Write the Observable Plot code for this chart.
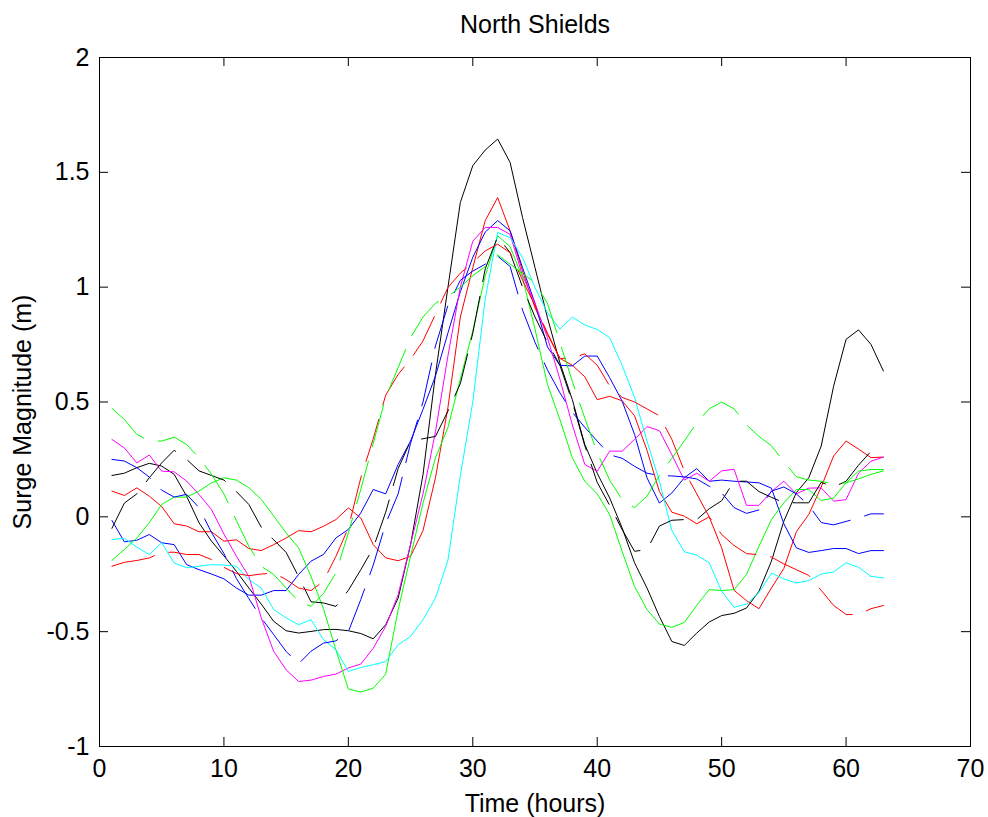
<!DOCTYPE html>
<html><head><meta charset="utf-8">
<script src="https://cdn.jsdelivr.net/npm/d3@7"></script>
<script src="https://cdn.jsdelivr.net/npm/@observablehq/plot@0.6"></script>
<style>body{margin:0;background:#fff}</style>
</head><body><div id="chart"></div>
<script>
const title = "North Shields";
const xLabel = "Time (hours)";
const yLabel = "Surge Magnitude (m)";
const xTicks = [0,10,20,30,40,50,60,70];
const yTicks = [-1,-0.5,0,0.5,1,1.5,2];
const hours = [1,2,3,4,5,6,7,8,9,10,11,12,13,14,15,16,17,18,19,20,21,22,23,24,25,26,27,28,29,30,31,32,33,34,35,36,37,38,39,40,41,42,43,44,45,46,47,48,49,50,51,52,53,54,55,56,57,58,59,60,61,62,63];

const blackSolid = [0.18,0.19,0.214,0.233,0.221,0.185,0.09,-0.026,-0.106,-0.17,-0.237,-0.31,-0.38,-0.455,-0.496,-0.506,-0.499,-0.491,-0.49,-0.496,-0.508,-0.531,-0.47,-0.354,-0.121,0.184,0.62,0.998,1.369,1.529,1.597,1.645,1.543,1.303,1.085,0.867,0.671,0.51,0.315,0.19,0.082,-0.048,-0.2,-0.31,-0.434,-0.543,-0.56,-0.506,-0.458,-0.43,-0.42,-0.397,-0.324,-0.193,-0.019,0.105,0.17,0.308,0.569,0.773,0.814,0.751,0.635];
const redSolid = [0.112,0.093,0.126,0.09,0.045,-0.03,-0.04,-0.065,-0.065,-0.106,-0.1,-0.138,-0.147,-0.121,-0.092,-0.06,-0.065,-0.041,-0.012,0.039,-0.005,-0.121,-0.179,-0.191,-0.172,-0.06,0.17,0.475,0.87,1.085,1.29,1.39,1.245,1.07,0.91,0.795,0.69,0.66,0.61,0.51,0.525,0.505,0.44,0.29,0.11,0.02,0.003,-0.03,0.0,-0.135,-0.32,-0.365,-0.4,-0.31,-0.225,-0.065,0.01,0.13,0.265,0.33,0.295,0.258,0.26];
const blueSolid = [-0.016,-0.109,-0.102,-0.077,-0.113,-0.121,-0.208,-0.23,-0.249,-0.27,-0.31,-0.341,-0.341,-0.321,-0.321,-0.251,-0.193,-0.164,-0.092,-0.055,0.017,0.119,0.1,0.228,0.33,0.468,0.613,0.8,0.98,1.13,1.24,1.29,1.245,1.085,0.93,0.74,0.66,0.657,0.7,0.7,0.606,0.504,0.359,0.17,0.06,0.104,0.17,0.21,0.155,0.16,0.155,0.152,0.148,0.125,-0.03,-0.135,-0.155,-0.147,-0.138,-0.138,-0.16,-0.147,-0.147];
const magentaSolid = [0.337,0.3,0.235,0.269,0.199,0.196,0.156,0.097,0.032,-0.075,-0.171,-0.259,-0.44,-0.586,-0.666,-0.717,-0.711,-0.695,-0.685,-0.658,-0.641,-0.572,-0.477,-0.339,-0.12,0.1,0.37,0.7,1.0,1.2,1.26,1.26,1.23,1.05,0.93,0.78,0.6,0.4,0.228,0.198,0.286,0.286,0.337,0.393,0.375,0.27,0.16,0.19,0.155,0.2,0.207,0.05,0.05,0.11,0.155,0.1,0.125,0.126,0.068,0.075,0.19,0.242,0.26];
const greenSolid = [-0.19,-0.142,-0.092,-0.026,0.054,0.086,0.086,0.112,0.148,0.17,0.16,0.127,0.076,0.003,-0.07,-0.135,-0.259,-0.4,-0.58,-0.75,-0.763,-0.746,-0.685,-0.405,-0.172,0.06,0.257,0.388,0.6,0.809,1.049,1.224,1.176,1.042,0.817,0.577,0.424,0.257,0.155,0.1,0.01,-0.15,-0.303,-0.404,-0.467,-0.481,-0.46,-0.385,-0.317,-0.321,-0.317,-0.251,-0.128,-0.012,0.061,0.119,0.119,0.071,0.082,0.148,0.199,0.206,0.206];
const cyanSolid = [-0.099,-0.094,-0.132,-0.164,-0.113,-0.201,-0.222,-0.215,-0.208,-0.21,-0.215,-0.273,-0.31,-0.404,-0.44,-0.47,-0.448,-0.535,-0.578,-0.673,-0.656,-0.644,-0.63,-0.557,-0.521,-0.448,-0.354,-0.19,0.18,0.5,0.95,1.238,1.216,1.129,0.998,0.889,0.817,0.87,0.835,0.816,0.78,0.66,0.52,0.33,0.155,-0.06,-0.152,-0.167,-0.2,-0.324,-0.394,-0.38,-0.33,-0.245,-0.27,-0.288,-0.278,-0.249,-0.24,-0.2,-0.22,-0.259,-0.266];
const blackDashed = [-0.05,0.06,0.1,0.17,0.235,0.29,0.25,0.2,0.18,0.16,0.11,0.054,-0.045,-0.1,-0.155,-0.26,-0.37,-0.375,-0.39,-0.32,-0.23,-0.136,0.02,0.21,0.33,0.34,0.35,0.46,0.58,0.8,1.08,1.22,1.15,1.0,0.87,0.76,0.66,0.5,0.31,0.15,0.05,-0.055,-0.15,-0.143,-0.04,-0.015,-0.012,-0.012,0.035,0.07,0.155,0.155,0.11,0.085,0.062,0.061,0.061,0.15,0.13,0.155,0.225,0.285,0.28];
const redDashed = [-0.215,-0.198,-0.19,-0.179,-0.155,-0.154,-0.164,-0.164,-0.186,-0.22,-0.247,-0.256,-0.249,-0.245,-0.273,-0.31,-0.321,-0.28,-0.172,-0.048,0.17,0.34,0.53,0.62,0.686,0.766,0.882,0.998,1.061,1.107,1.158,1.187,1.15,1.03,0.92,0.8,0.69,0.69,0.71,0.66,0.57,0.52,0.5,0.47,0.44,0.337,0.2,0.1,0.0,-0.077,-0.125,-0.16,-0.165,-0.175,-0.205,-0.23,-0.255,-0.32,-0.386,-0.425,-0.426,-0.4,-0.386];
const blueDashed = [0.25,0.243,0.214,0.173,0.116,0.086,0.098,0.04,-0.068,-0.16,-0.268,-0.356,-0.44,-0.513,-0.586,-0.64,-0.585,-0.55,-0.54,-0.5,-0.36,-0.21,-0.03,0.1,0.32,0.5,0.744,0.92,1.03,1.07,1.1,1.135,1.09,0.9,0.76,0.64,0.54,0.455,0.39,0.33,0.27,0.255,0.22,0.19,0.18,0.178,0.174,0.165,0.133,0.104,0.04,0.015,0.03,0.112,0.13,0.1,0.05,-0.025,-0.035,-0.02,-0.005,0.013,0.013];
const greenDashed = [0.472,0.424,0.359,0.33,0.33,0.347,0.315,0.257,0.185,0.1,-0.016,-0.128,-0.215,-0.251,-0.31,-0.368,-0.39,-0.334,-0.244,-0.07,0.12,0.32,0.52,0.65,0.78,0.87,0.93,0.96,1.0,1.05,1.09,1.14,1.1,1.06,1.02,0.93,0.76,0.59,0.43,0.28,0.16,0.075,0.04,0.09,0.18,0.255,0.33,0.41,0.47,0.5,0.47,0.4,0.35,0.31,0.24,0.175,0.16,0.155,0.143,0.148,0.165,0.185,0.2];

const seriesList = [
  {values: blackSolid, color: "#000000", dash: null},
  {values: redSolid, color: "#ff0000", dash: null},
  {values: blueSolid, color: "#0000ff", dash: null},
  {values: magentaSolid, color: "#ff00ff", dash: null},
  {values: greenSolid, color: "#00ff00", dash: null},
  {values: cyanSolid, color: "#00ffff", dash: null},
  {values: blackDashed, color: "#000000", dash: "44,15"},
  {values: redDashed, color: "#ff0000", dash: "44,15"},
  {values: blueDashed, color: "#0000ff", dash: "44,15"},
  {values: greenDashed, color: "#00ff00", dash: "44,15"}
];

const W = 988, H = 817, mL = 99, mR = 18, mT = 57, mB = 71;
const innerW = W - mL - mR, innerH = H - mT - mB, tickLen = 9;

const lineMarks = seriesList.map(s =>
  Plot.line(s.values.map((v, i) => ({t: hours[i], v})), {
    x: "t", y: "v", stroke: s.color, strokeWidth: 1,
    strokeDasharray: s.dash, strokeLinejoin: "miter"
  })
);

const chart = Plot.plot({
  width: W, height: H,
  marginLeft: mL, marginRight: mR, marginTop: mT, marginBottom: mB,
  style: {fontFamily: "'Liberation Sans', Arial, Helvetica, sans-serif", fontSize: "25px", background: "#fff", color: "#000"},
  x: {domain: [0, 70]},
  y: {domain: [-1, 2]},
  marks: [
    ...lineMarks,
    Plot.frame({stroke: "#000", strokeWidth: 1}),
    Plot.ruleX(xTicks, {x: d => d, insetTop: innerH - tickLen, stroke: "#000"}),
    Plot.ruleX(xTicks, {x: d => d, insetBottom: innerH - tickLen, stroke: "#000"}),
    Plot.ruleY(yTicks, {y: d => d, insetRight: innerW - tickLen, stroke: "#000"}),
    Plot.ruleY(yTicks, {y: d => d, insetLeft: innerW - tickLen, stroke: "#000"}),
    Plot.axisX(xTicks, {tickSize: 0, tickPadding: 13, label: null, fontSize: 25, tickFormat: d => String(d)}),
    Plot.axisY(yTicks, {tickSize: 0, tickPadding: 10, label: null, fontSize: 25, tickFormat: d => String(d)}),
    Plot.text([title], {text: d => d, frameAnchor: "top", lineAnchor: "middle", textAnchor: "middle", dy: -33, fontSize: 25}),
    Plot.text([xLabel], {text: d => d, frameAnchor: "bottom", lineAnchor: "middle", textAnchor: "middle", dy: 57, fontSize: 25}),
    Plot.text([yLabel], {text: d => d, frameAnchor: "left", lineAnchor: "middle", textAnchor: "middle", dx: -77, dy: 10, rotate: -90, fontSize: 25})
  ]
});
document.getElementById("chart").appendChild(chart);
</script>
</body></html>
